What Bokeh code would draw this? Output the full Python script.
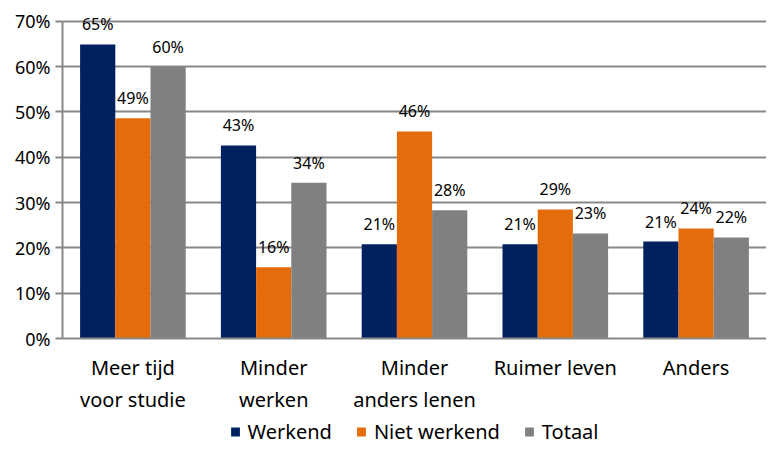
from bokeh.plotting import figure
from bokeh.layouts import column
from bokeh.models import ColumnDataSource, FactorRange, LabelSet, Legend, LegendItem, NumeralTickFormatter, FixedTicker, Range1d
from bokeh.core.properties import value
from bokeh.transform import dodge
from bokeh.embed import file_html
from bokeh.resources import INLINE

categories = ["Meer tijd\nvoor studie", "Minder\nwerken", "Minder\nanders lenen", "Ruimer leven", "Anders"]
werkend = [0.649, 0.426, 0.208, 0.208, 0.214]
niet_werkend = [0.486, 0.157, 0.457, 0.285, 0.243]
totaal = [0.600, 0.344, 0.283, 0.232, 0.223]
werkend_lbl = ["65%", "43%", "21%", "21%", "21%"]
niet_lbl = ["49%", "16%", "46%", "29%", "24%"]
totaal_lbl = ["60%", "34%", "28%", "23%", "22%"]
series_names = ["Werkend", "Niet werkend", "Totaal"]
colors = ["#002060", "#E46C0A", "#808080"]
y_ticks = [0, 0.1, 0.2, 0.3, 0.4, 0.5, 0.6, 0.7]

FONT = "Noto Sans"

src = ColumnDataSource(dict(cat=categories, w=werkend, n=niet_werkend, t=totaal,
                            wl=werkend_lbl, nl=niet_lbl, tl=totaal_lbl))

p = figure(x_range=FactorRange(*categories), y_range=(0, 0.735), width=766, height=418,
           output_backend="svg", toolbar_location=None,
           min_border_left=62, min_border_right=0, min_border_top=5, min_border_bottom=80)

for col, lab, off, c in [("w", "wl", -0.25, colors[0]), ("n", "nl", 0.0, colors[1]), ("t", "tl", 0.25, colors[2])]:
    p.vbar(x=dodge("cat", off, range=p.x_range), top=col, width=0.25, source=src,
           fill_color=c, line_color=None)
    p.add_layout(LabelSet(x=dodge("cat", off, range=p.x_range), y=col, text=lab, source=src,
                          text_align="center", text_baseline="middle", y_offset=20,
                          text_font=value(FONT), text_font_size="16px", text_color="#000000"))

p.x_range.range_padding = 0
p.x_range.factor_padding = 0
p.xgrid.grid_line_color = None
p.ygrid.grid_line_color = "#888888"
p.ygrid.grid_line_width = 2
p.ygrid.ticker = FixedTicker(ticks=y_ticks[1:])
p.yaxis.ticker = FixedTicker(ticks=y_ticks)
p.yaxis.bounds = (0, 0.7)
p.yaxis.formatter = NumeralTickFormatter(format="0%")
p.yaxis.major_label_text_font = FONT
p.yaxis.major_label_text_font_size = "18px"
p.yaxis.major_label_text_color = "#000000"
p.yaxis.axis_line_color = "#888888"
p.yaxis.axis_line_width = 2
p.yaxis.major_tick_line_color = "#888888"
p.yaxis.major_tick_line_width = 2
p.yaxis.major_tick_out = 7
p.yaxis.major_tick_in = 0
p.yaxis.minor_tick_line_color = None
p.xaxis.major_label_text_font = FONT
p.xaxis.major_label_text_font_size = "20px"
p.xaxis.major_label_text_color = "#000000"
p.xaxis.axis_line_color = "#888888"
p.xaxis.axis_line_width = 2
p.xaxis.major_tick_line_color = None
p.xaxis.major_label_standoff = 9
p.outline_line_color = None

# legend in its own strip below the chart; proxy glyphs sit outside the strip's visible range
lg = figure(width=766, height=27, output_backend="svg", toolbar_location=None,
            x_range=Range1d(0, 1), y_range=Range1d(0, 1),
            min_border_left=0, min_border_right=0, min_border_top=0, min_border_bottom=0)
lg.axis.visible = False
lg.grid.visible = False
lg.outline_line_color = None
items = []
for name, c in zip(series_names, colors):
    r = lg.vbar(x=[-5], top=[-5], bottom=[-6], width=0.1, fill_color=c, line_color=None)
    items.append(LegendItem(label=name, renderers=[r]))
legend = Legend(items=items, orientation="horizontal", location="bottom_center",
                label_text_font=FONT, label_text_font_size="20px", label_text_color="#000000",
                glyph_width=11, glyph_height=11, spacing=24, label_standoff=7,
                border_line_color=None, background_fill_alpha=0, margin=0, padding=0)
lg.add_layout(legend)

layout = column(p, lg, spacing=0)
open("out.html", "w").write(file_html(layout, INLINE))
